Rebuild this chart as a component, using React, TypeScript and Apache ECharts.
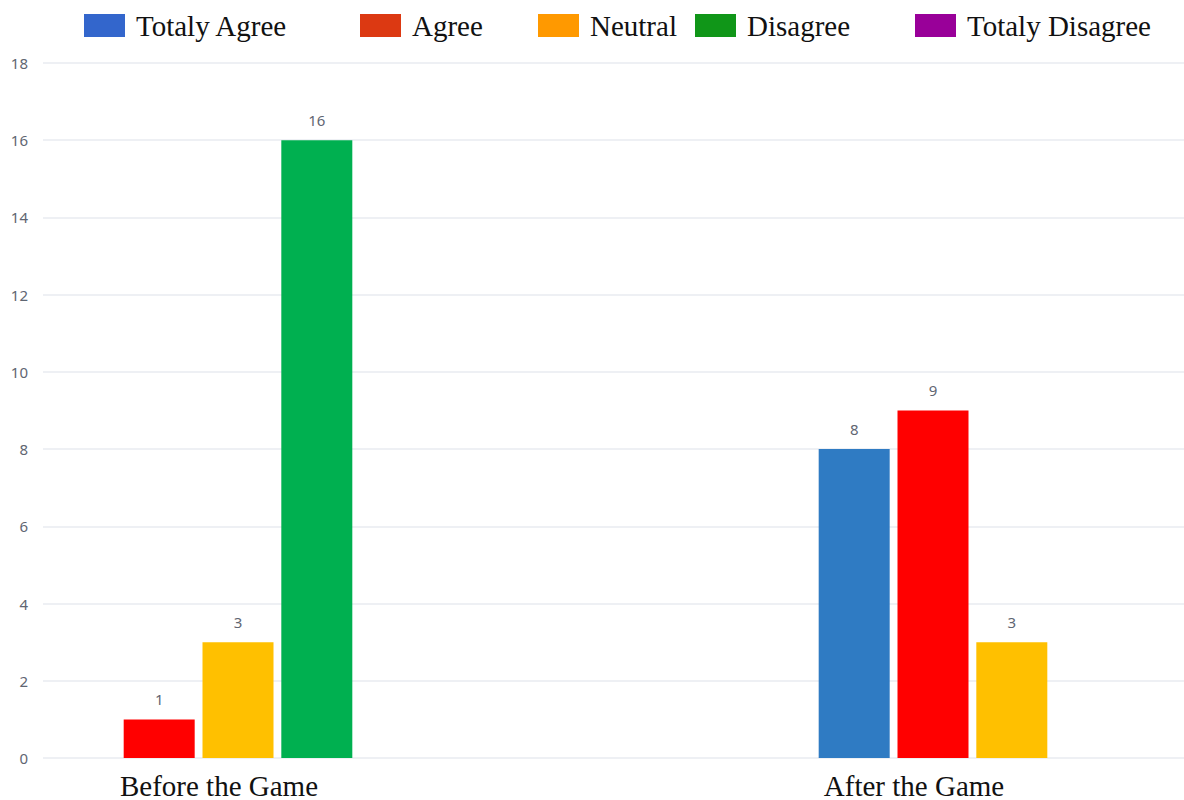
import React, { useEffect, useRef } from "react";
import * as echarts from "echarts";

const categories = ["Before the Game", "After the Game"];
const seriesNames = ["Totaly Agree", "Agree", "Neutral", "Disagree", "Totaly Disagree"];
const totalyAgree: (number | null)[] = [null, 8];
const agree: (number | null)[] = [1, 9];
const neutral: (number | null)[] = [3, 3];
const disagree: (number | null)[] = [16, null];
const totalyDisagree: (number | null)[] = [null, null];
const seriesValues = [totalyAgree, agree, neutral, disagree, totalyDisagree];
const barColors = ["#2f7bc3", "#ff0000", "#ffc000", "#00b050", "#990099"];
const legendColors = ["#3366cc", "#dc3912", "#ff9900", "#109618", "#990099"];
const yTicks = [0, 2, 4, 6, 8, 10, 12, 14, 16, 18];
const legendLefts = [84, 360, 538, 695, 915];

export default function App() {
  const ref = useRef<HTMLDivElement>(null);
  useEffect(() => {
    if (!ref.current) return;
    const chart = echarts.init(ref.current, undefined, { renderer: "svg" });

    // clustered bars: each category only lays out the series that have a value
    const slotOf: number[][] = seriesValues.map(() => categories.map(() => -1));
    categories.forEach((_, c) => {
      let k = 0;
      seriesValues.forEach((vals, s) => {
        if (vals[c] !== null) {
          slotOf[s][c] = k;
          k++;
        }
      });
    });
    const series: any[] = [];
    seriesValues.forEach((vals, s) => {
      const slots = Array.from(new Set(slotOf[s].filter((k) => k >= 0)));
      if (slots.length === 0) slots.push(2);
      slots.forEach((k) => {
        series.push({
          name: seriesNames[s],
          type: "bar",
          xAxisIndex: 1,
          yAxisIndex: 1,
          stack: "slot" + k,
          clip: false,
          barWidth: 71,
          barGap: "11%",
          itemStyle: { color: barColors[s] },
          label: {
            show: true,
            position: "top",
            distance: 13,
            fontSize: 15,
            fontFamily: "Noto Sans",
            color: "#5f6672",
          },
          data: vals.map((v, c) => (slotOf[s][c] === k ? v : null)),
        });
      });
    });

    const legends = seriesNames.map((n, i) => ({
      left: legendLefts[i],
      top: 11,
      padding: 0,
      selectedMode: false,
      icon: "rect",
      itemWidth: 41,
      itemHeight: 23,
      textStyle: {
        fontFamily: "Liberation Serif",
        fontSize: 29,
        color: "#111",
        padding: [0, 0, 0, 6],
      },
      data: [{ name: n, itemStyle: { color: legendColors[i] } }],
    }));

    chart.setOption({
      animation: false,
      backgroundColor: "#ffffff",
      legend: legends,
      grid: [
        { left: 43, right: 0, top: 63, bottom: 42 },
        { left: 238, right: 251, top: 63, bottom: 42 },
      ],
      xAxis: [
        { type: "category", gridIndex: 0, data: categories, show: false },
        {
          type: "category",
          gridIndex: 1,
          data: categories,
          boundaryGap: false,
          axisLine: { show: false },
          axisTick: { show: false },
          splitLine: { show: false },
          axisLabel: {
            margin: 13,
            fontFamily: "Liberation Serif",
            fontSize: 29,
            color: "#111",
            padding: [0, 38, 0, 0],
          },
        },
      ],
      yAxis: [
        {
          type: "value",
          gridIndex: 0,
          min: yTicks[0],
          max: yTicks[yTicks.length - 1],
          interval: 2,
          axisLine: { show: false },
          axisTick: { show: false },
          axisLabel: {
            margin: 15,
            fontSize: 15,
            fontFamily: "Noto Sans",
            color: "#5f6672",
          },
          splitLine: { lineStyle: { color: "#e8ebf0", width: 1.5 } },
        },
        {
          type: "value",
          gridIndex: 1,
          min: yTicks[0],
          max: yTicks[yTicks.length - 1],
          interval: 2,
          show: false,
          splitLine: { show: false },
        },
      ],
      series,
    });
    return () => chart.dispose();
  }, []);
  return (
    <div
      ref={ref}
      style={{ position: "fixed", left: 0, top: 0, width: 1184, height: 800 }}
    />
  );
}
